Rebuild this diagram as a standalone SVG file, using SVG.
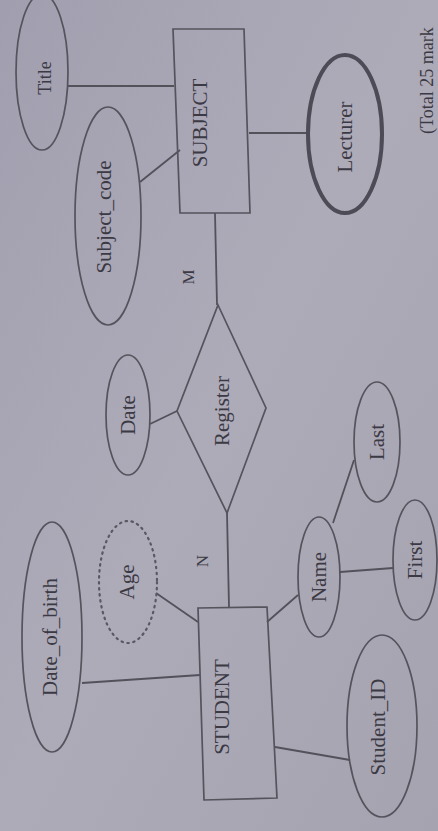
<svg xmlns="http://www.w3.org/2000/svg" width="438" height="831" viewBox="0 0 438 831">
<defs>
<linearGradient id="bg" x1="0" y1="0" x2="1" y2="1">
<stop offset="0" stop-color="#a19eaf"/>
<stop offset="0.5" stop-color="#aeabb9"/>
<stop offset="1" stop-color="#a6a3b1"/>
</linearGradient>
<style>
.shape{fill:none;stroke:#55535c;stroke-width:1.7}
.thick{fill:none;stroke:#4d4b55;stroke-width:4}
.dotted{fill:none;stroke:#5a5862;stroke-width:2.2;stroke-dasharray:1.5 4.5;stroke-linecap:round}
.conn line{stroke:#53515a;stroke-width:1.8}
text{font-family:"Liberation Serif","Times New Roman",serif;fill:#3b3943;font-size:21px;text-anchor:middle;dominant-baseline:central}
</style>
</defs>
<rect width="438" height="831" fill="url(#bg)"/>

<g id="connectors" class="conn">
<line x1="68" y1="86" x2="174" y2="86"/>
<line x1="140" y1="182" x2="180" y2="150"/>
<line x1="249" y1="133" x2="308" y2="133"/>
<line x1="215" y1="213" x2="217" y2="305"/>
<line x1="150" y1="424" x2="177" y2="411"/>
<line x1="227" y1="513" x2="229" y2="607"/>
<line x1="156" y1="593" x2="198" y2="622"/>
<line x1="82" y1="683" x2="200" y2="675"/>
<line x1="267" y1="622" x2="298" y2="595"/>
<line x1="275" y1="747" x2="350" y2="760"/>
<line x1="333" y1="523" x2="354" y2="460"/>
<line x1="340" y1="572" x2="393" y2="568"/>
<text transform="translate(188,277) rotate(-90)" style="font-size:17px">M</text>
<text transform="translate(202,561) rotate(-90)" style="font-size:17px">N</text>
</g>

<g id="subject">
<polygon class="shape" points="173,29 244,29 250,213 180,213"/>
<text transform="translate(200,123) rotate(-90)">SUBJECT</text>
</g>
<g id="title">
<ellipse class="shape" cx="42" cy="72" rx="26" ry="78"/>
<text transform="translate(45,78) rotate(-90)" style="font-size:18px">Title</text>
</g>
<g id="subject_code">
<ellipse class="shape" cx="108" cy="216" rx="33" ry="109"/>
<text transform="translate(104,217) rotate(-90)">Subject_code</text>
</g>
<g id="lecturer">
<ellipse class="thick" cx="345" cy="134" rx="37" ry="79"/>
<text transform="translate(345,137) rotate(-90)">Lecturer</text>
</g>
<g id="register">
<polygon class="shape" points="218,305 266,408 227,513 177,411"/>
<text transform="translate(222,411) rotate(-90)">Register</text>
</g>
<g id="date">
<ellipse class="shape" cx="128" cy="415" rx="22" ry="60"/>
<text transform="translate(128,415) rotate(-90)">Date</text>
</g>
<g id="student">
<polygon class="shape" points="198,608 267,607 277,798 204,800"/>
<text transform="translate(222,707) rotate(-90)">STUDENT</text>
</g>
<g id="age">
<ellipse class="dotted" cx="128" cy="582" rx="29" ry="61"/>
<text transform="translate(127,582) rotate(-90)">Age</text>
</g>
<g id="date_of_birth">
<ellipse class="shape" cx="52" cy="637" rx="30" ry="115"/>
<text transform="translate(50,637) rotate(-90)">Date_of_birth</text>
</g>
<g id="name">
<ellipse class="shape" cx="319" cy="577" rx="21" ry="60"/>
<text transform="translate(319,577) rotate(-90)">Name</text>
</g>
<g id="last">
<ellipse class="shape" cx="377" cy="442" rx="23" ry="60"/>
<text transform="translate(377,442) rotate(-90)">Last</text>
</g>
<g id="first">
<ellipse class="shape" cx="415" cy="560" rx="22" ry="60"/>
<text transform="translate(415,560) rotate(-90)">First</text>
</g>
<g id="student_id">
<ellipse class="shape" cx="382" cy="726" rx="35" ry="91"/>
<text transform="translate(378,727) rotate(-90)">Student_ID</text>
</g>
<text transform="translate(427,134) rotate(-90)" style="text-anchor:start;font-size:18px">(Total 25 mark</text>
</svg>
